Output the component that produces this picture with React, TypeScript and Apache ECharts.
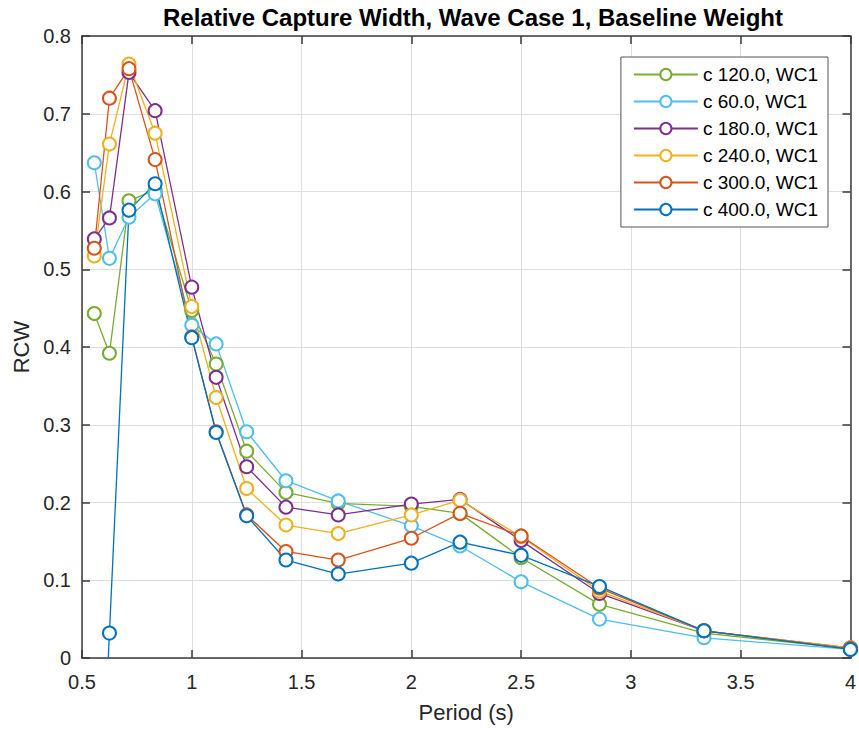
import React, { useEffect, useRef } from "react";
import * as echarts from "echarts";

const periods = [0.556, 0.625, 0.714, 0.833, 1.0, 1.111, 1.25, 1.429, 1.667, 2.0, 2.222, 2.5, 2.857, 3.333, 4.0];

const seriesNames = ["c 120.0, WC1", "c 60.0, WC1", "c 180.0, WC1", "c 240.0, WC1", "c 300.0, WC1", "c 400.0, WC1"];

const c120 = [0.443, 0.392, 0.588, 0.602, 0.447, 0.378, 0.266, 0.213, 0.199, 0.195, 0.186, 0.129, 0.069, 0.032, 0.012];
const c60 = [0.637, 0.514, 0.567, 0.597, 0.428, 0.404, 0.291, 0.228, 0.202, 0.170, 0.144, 0.098, 0.050, 0.026, 0.011];
const c180 = [0.539, 0.566, 0.753, 0.704, 0.477, 0.361, 0.246, 0.194, 0.184, 0.198, 0.204, 0.151, 0.083, 0.035, 0.013];
const c240 = [0.517, 0.661, 0.764, 0.675, 0.452, 0.335, 0.218, 0.171, 0.160, 0.184, 0.203, 0.156, 0.086, 0.035, 0.013];
const c300 = [0.527, 0.720, 0.758, 0.641, 0.413, 0.291, 0.184, 0.137, 0.126, 0.154, 0.186, 0.157, 0.090, 0.035, 0.012];
const c400 = [-0.4, 0.032, 0.576, 0.610, 0.412, 0.290, 0.183, 0.126, 0.108, 0.122, 0.149, 0.132, 0.092, 0.035, 0.011];

const seriesValues = [c120, c60, c180, c240, c300, c400];
const colors = ["#77AC30", "#4DBEEE", "#7E2F8E", "#EDB120", "#D95319", "#0072BD"];

const FONT = "'Liberation Sans', Arial, Helvetica, sans-serif";
const AXIS_COLOR = "#3a3a3a";
const TEXT_COLOR = "#262626";

export default function App() {
  const ref = useRef<HTMLDivElement>(null);

  useEffect(() => {
    if (!ref.current) return;
    const chart = echarts.init(ref.current, null, { renderer: "svg" });

    const axisCommon = {
      axisLine: { show: true, onZero: false, lineStyle: { color: AXIS_COLOR, width: 1.5 } },
      axisTick: { show: true, inside: true, length: 8, lineStyle: { color: AXIS_COLOR, width: 1.5 } },
    };

    const option: any = {
      animation: false,
      backgroundColor: "#ffffff",
      title: {
        text: "Relative Capture Width, Wave Case 1, Baseline Weight",
        left: 468,
        textAlign: "center",
        top: 0,
        textStyle: { fontFamily: FONT, fontSize: 24, fontWeight: "bold", color: "#000000" },
      },
      grid: { left: 82, right: 7, top: 36, bottom: 74, containLabel: false },
      legend: {
        orient: "vertical",
        right: 31,
        top: 57,
        data: seriesNames,
        itemWidth: 64,
        itemHeight: 14,
        itemGap: 8,
        padding: [8, 10, 8, 12],
        backgroundColor: "#ffffff",
        borderColor: "#555555",
        borderWidth: 1,
        textStyle: { fontFamily: FONT, fontSize: 19, color: "#000000", lineHeight: 19 },
      },
      xAxis: [
        {
          type: "value",
          min: 0.5,
          max: 4,
          interval: 0.5,
          position: "bottom",
          name: "Period (s)",
          nameLocation: "middle",
          nameGap: 43,
          nameTextStyle: { fontFamily: FONT, fontSize: 22, color: TEXT_COLOR },
          ...axisCommon,
          axisLabel: { fontFamily: FONT, fontSize: 20, color: TEXT_COLOR, margin: 14 },
          splitLine: { show: true, lineStyle: { color: "#dedede", width: 1 } },
        },
        {
          type: "value",
          min: 0.5,
          max: 4,
          interval: 0.5,
          position: "top",
          ...axisCommon,
          axisLabel: { show: false },
          splitLine: { show: false },
        },
      ],
      yAxis: [
        {
          type: "value",
          min: 0,
          max: 0.8,
          interval: 0.1,
          position: "left",
          name: "RCW",
          nameLocation: "middle",
          nameGap: 47,
          nameTextStyle: { fontFamily: FONT, fontSize: 22, color: TEXT_COLOR },
          ...axisCommon,
          axisLabel: { fontFamily: FONT, fontSize: 20, color: TEXT_COLOR, margin: 11 },
          splitLine: { show: true, lineStyle: { color: "#dedede", width: 1 } },
        },
        {
          type: "value",
          min: 0,
          max: 0.8,
          interval: 0.1,
          position: "right",
          ...axisCommon,
          axisLabel: { show: false },
          splitLine: { show: false },
        },
      ],
      series: seriesNames.map((name, i) => ({
        name,
        type: "line",
        xAxisIndex: 0,
        yAxisIndex: 0,
        clip: true,
        data: periods.map((p, j) => [p, seriesValues[i][j]]),
        symbol: "emptyCircle",
        symbolSize: 13,
        showAllSymbol: true,
        color: colors[i],
        lineStyle: { color: colors[i], width: 1.3 },
        itemStyle: { color: colors[i], borderColor: colors[i], borderWidth: 1.3 },
        emphasis: { disabled: true },
      })),
    };

    chart.setOption(option);
    return () => chart.dispose();
  }, []);

  return (
    <div
      ref={ref}
      style={{ position: "fixed", left: 0, top: 0, width: 859, height: 732, background: "#fff" }}
    />
  );
}
